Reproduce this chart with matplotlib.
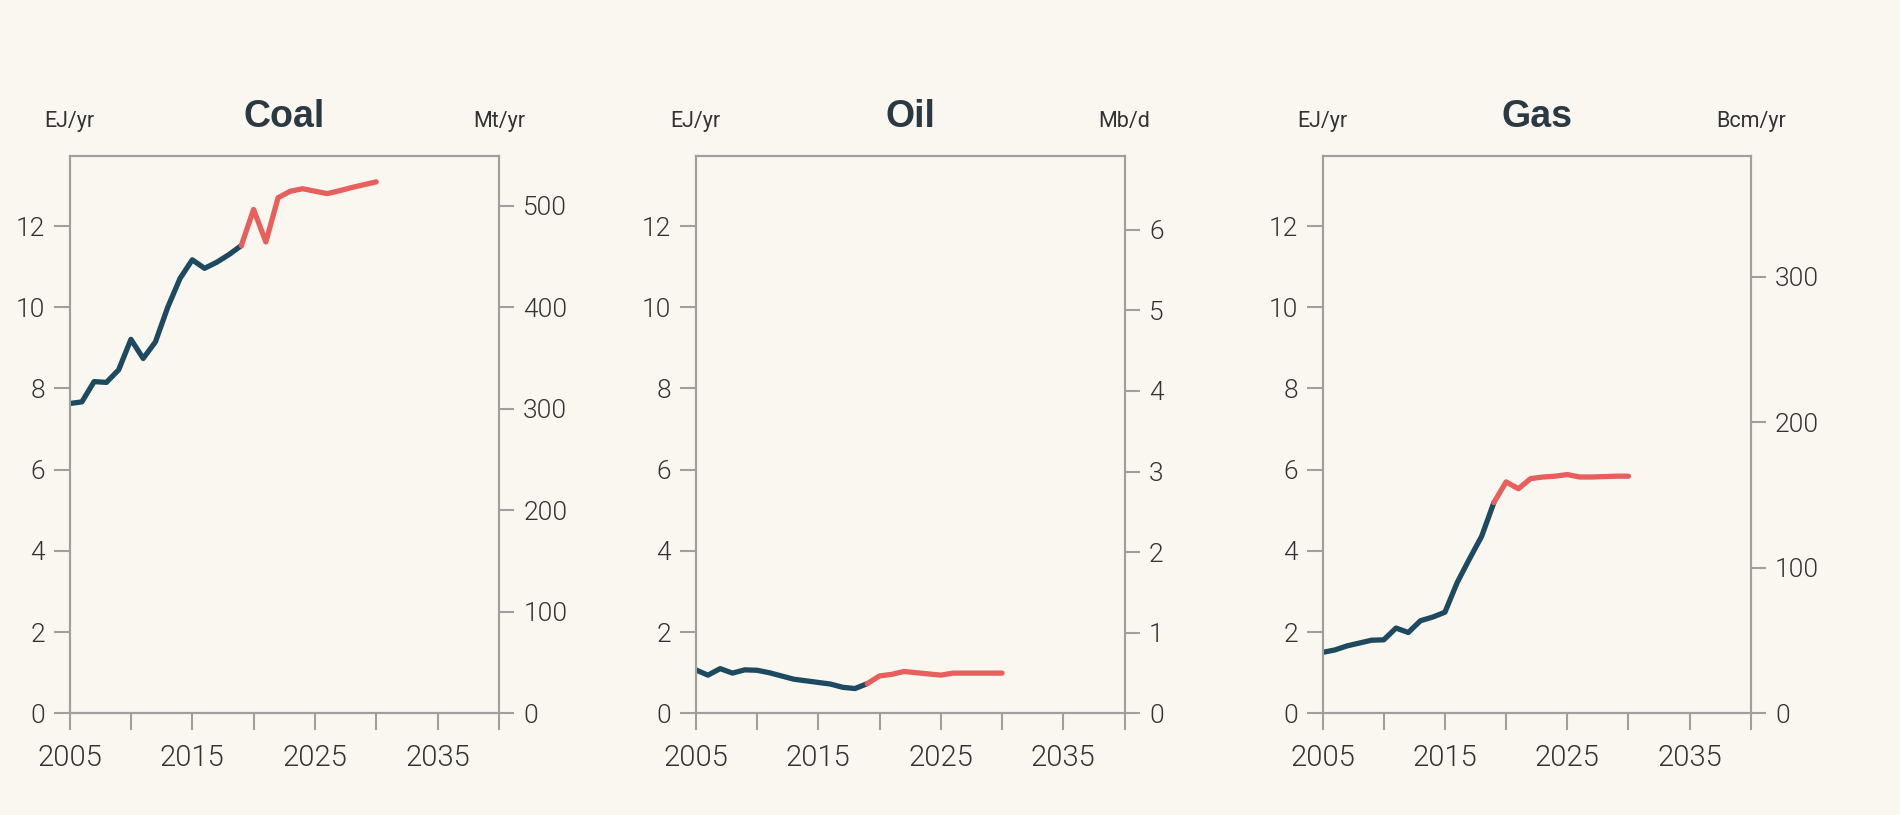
import matplotlib
matplotlib.use("Agg")
import matplotlib.pyplot as plt

# ---------------- data ----------------
hist_years = list(range(2005, 2020))          # 2005..2019
proj_years = list(range(2019, 2031))          # 2019..2030

coal_hist = [7.63, 7.67, 8.17, 8.15, 8.46, 9.21, 8.74, 9.15, 10.00, 10.71,
             11.17, 10.96, 11.11, 11.30, 11.52]
coal_proj = [11.52, 12.41, 11.61, 12.70, 12.86, 12.92, 12.86, 12.80, 12.87,
             12.95, 13.02, 13.09]

oil_hist = [1.07, 0.94, 1.10, 0.99, 1.07, 1.06, 1.00, 0.92, 0.84, 0.80,
            0.76, 0.72, 0.64, 0.61, 0.73]
oil_proj = [0.73, 0.92, 0.96, 1.03, 1.00, 0.97, 0.94, 0.99, 0.99, 0.99,
            0.99, 0.99]

gas_hist = [1.50, 1.56, 1.66, 1.73, 1.80, 1.81, 2.10, 1.99, 2.28, 2.37,
            2.49, 3.22, 3.80, 4.36, 5.19]
gas_proj = [5.19, 5.70, 5.53, 5.78, 5.82, 5.84, 5.88, 5.82, 5.82, 5.83,
            5.84, 5.84]

titles = ["Coal", "Oil", "Gas"]
right_units = ["Mt/yr", "Mb/d", "Bcm/yr"]
left_unit = "EJ/yr"

left_ticks = [0, 2, 4, 6, 8, 10, 12]
right_ticks = [[0, 100, 200, 300, 400, 500],
               [0, 1, 2, 3, 4, 5, 6],
               [0, 100, 200, 300]]
# conversion: right-axis units per EJ/yr
right_factor = [40.0, 1 / 1.985, 27.9]

x_ticks = [2005, 2010, 2015, 2020, 2025, 2030, 2035, 2040]
x_labels = ["2005", "", "2015", "", "2025", "", "2035", ""]

# ---------------- style ----------------
BG = "#FAF6F0"
DARK = "#1E4A5F"
RED = "#E8605E"
SPINE = "#A09F9D"
TXT = "#333333"
TITLE = "#2B3A42"
FONT = ["Roboto", "DejaVu Sans"]
TITLE_FONT = ["Liberation Sans", "DejaVu Sans"]

plt.rcParams["font.family"] = FONT

W, H = 1900, 815
fig = plt.figure(figsize=(W / 100, H / 100), dpi=100, facecolor=BG)

# axes pixel boxes: (left, right)
boxes = [(69.6, 498.9), (695.7, 1124.6), (1322.6, 1750.8)]
top_px, bot_px = 156, 713.3
ylim_top = (bot_px - top_px) / 40.6

series = [(coal_hist, coal_proj), (oil_hist, oil_proj), (gas_hist, gas_proj)]
LW = 1.5
DLW = 3.8

for i, (l, r) in enumerate(boxes):
    ax = fig.add_axes([l / W, 1 - bot_px / H, (r - l) / W, (bot_px - top_px) / H])
    ax.set_facecolor(BG)
    hist, proj = series[i]
    ax.plot(hist_years, hist, color=DARK, lw=DLW, solid_capstyle="round",
            solid_joinstyle="round", zorder=3)
    ax.plot(proj_years, proj, color=RED, lw=DLW, solid_capstyle="round",
            solid_joinstyle="round", zorder=3)
    ax.set_xlim(2005, 2040)
    ax.set_ylim(0, ylim_top)
    ax.set_xticks(x_ticks)
    ax.set_xticklabels(x_labels)
    ax.set_yticks(left_ticks)
    for s in ax.spines.values():
        s.set_color(SPINE)
        s.set_linewidth(LW)
    ax.tick_params(axis="x", length=12, width=LW, color=SPINE, pad=10,
                   labelsize=21, labelcolor=TXT)
    ax.tick_params(axis="y", length=11.3, width=LW, color=SPINE, pad=6.5,
                   labelsize=19, labelcolor=TXT)
    for t in ax.get_xticklabels() + ax.get_yticklabels():
        t.set_fontweight(300)

    ax2 = ax.twinx()
    ax2.set_ylim(0, ylim_top * right_factor[i])
    ax2.set_yticks(right_ticks[i])
    for s in ax2.spines.values():
        s.set_color(SPINE)
        s.set_linewidth(LW)
    ax2.tick_params(axis="y", length=11, width=LW, color=SPINE, pad=6.5,
                    labelsize=19, labelcolor=TXT)
    for t in ax2.get_yticklabels():
        t.set_fontweight(300)

    base_y = 1 - 127 / H
    fig.text((l + r) / 2 / W, base_y, titles[i], ha="center", va="baseline",
             fontsize=27, fontweight="bold", color=TITLE, family=TITLE_FONT)
    fig.text(l / W, base_y, left_unit, ha="center", va="baseline",
             fontsize=15.5, color=TXT)
    fig.text(r / W, base_y, right_units[i], ha="center", va="baseline",
             fontsize=15.5, color=TXT)

fig.savefig("out.png", dpi=100, facecolor=BG)
